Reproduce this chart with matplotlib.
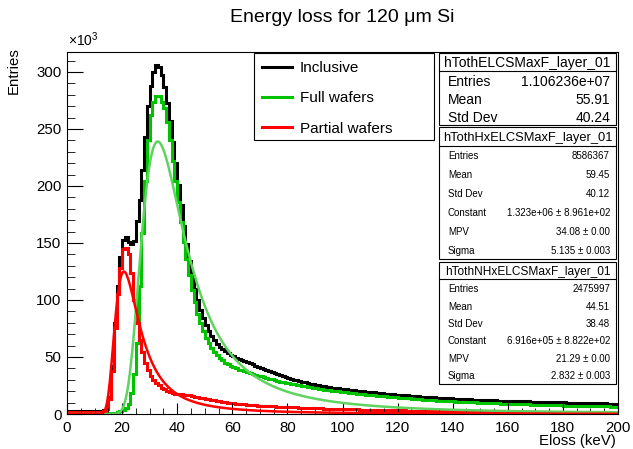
import numpy as np
import matplotlib.pyplot as plt
from matplotlib.patches import Rectangle
from matplotlib.lines import Line2D
from matplotlib.ticker import MultipleLocator

plt.rcParams['font.family'] = ['Liberation Sans', 'DejaVu Sans']
plt.rcParams['mathtext.fontset'] = 'custom'
plt.rcParams['mathtext.rm'] = 'Liberation Sans'

# 1 keV bins from 0 to 200, contents in units of 10^3 entries
edges = np.arange(0, 201, 1)

inclusive = [
    2.6, 2.6, 2.7, 2.6, 2.6, 2.7, 2.6, 2.7, 2.7, 2.8,
    2.8, 2.9, 3.0, 3.2, 5.0, 15.0, 42.0, 80.0, 112.0, 138.0,
    153.0, 155.0, 151.0, 149.0, 152.0, 169.0, 188.0, 214.0, 243.0, 270.0,
    288.0, 300.0, 306.0, 304.0, 297.0, 287.0, 273.0, 257.0, 239.0, 220.0,
    201.0, 183.0, 165.0, 149.0, 134.0, 121.0, 110.0, 100.0, 91.0, 84.0,
    78.0, 73.0, 68.5, 64.5, 61.5, 59.0, 57.0, 55.0, 53.5, 52.0,
    50.5, 49.5, 48.5, 47.5, 46.5, 45.5, 44.5, 43.5, 42.5, 41.5,
    40.5, 39.5, 38.5, 37.5, 36.6, 35.7, 34.8, 34.0, 33.2, 32.4,
    31.6, 30.9, 30.2, 29.5, 28.9, 28.3, 27.7, 27.1, 26.6, 26.1,
    25.6, 25.1, 24.7, 24.3, 23.9, 23.5, 23.1, 22.8, 22.5, 22.2,
    21.9, 21.6, 21.3, 21.0, 20.7, 20.4, 20.1, 19.9, 19.6, 19.4,
    19.1, 18.9, 18.6, 18.4, 18.2, 17.9, 17.7, 17.5, 17.3, 17.1,
    16.9, 16.7, 16.5, 16.3, 16.1, 15.9, 15.7, 15.5, 15.3, 15.1,
    14.9, 14.8, 14.6, 14.5, 14.3, 14.2, 14.0, 13.9, 13.8, 13.6,
    13.5, 13.4, 13.3, 13.2, 13.0, 12.9, 12.8, 12.7, 12.6, 12.5,
    12.4, 12.3, 12.2, 12.1, 12.0, 11.9, 11.8, 11.8, 11.7, 11.6,
    11.5, 11.4, 11.3, 11.3, 11.2, 11.1, 11.0, 11.0, 10.9, 10.8,
    10.7, 10.7, 10.6, 10.5, 10.5, 10.4, 10.3, 10.3, 10.2, 10.1,
    10.1, 10.0, 10.0, 9.9, 9.8, 9.8, 9.7, 9.7, 9.6, 9.6,
    9.5, 9.5, 9.4, 9.4, 9.3, 9.3, 9.2, 9.2, 9.1, 9.1,
]

full = [
    0.6, 0.6, 0.5, 0.6, 0.6, 0.5, 0.6, 0.6, 0.6, 0.6,
    0.6, 0.6, 0.6, 0.7, 0.7, 0.8, 1.0, 1.2, 1.6, 2.2,
    3.2, 5.0, 9.0, 18.0, 35.0, 62.0, 112.0, 159.0, 204.0, 240.0,
    262.0, 274.0, 279.0, 279.0, 274.0, 268.0, 256.0, 240.0, 222.0, 204.0,
    186.0, 168.0, 151.0, 136.0, 122.0, 109.0, 98.0, 88.0, 80.0, 73.0,
    67.0, 62.0, 58.0, 54.5, 51.5, 49.0, 47.0, 45.0, 43.5, 42.0,
    41.0, 40.0, 39.0, 38.2, 37.4, 36.6, 35.8, 35.0, 34.3, 33.6,
    32.9, 32.2, 31.5, 30.9, 30.3, 29.7, 29.1, 28.5, 28.0, 27.5,
    27.0, 26.5, 26.0, 25.5, 25.0, 24.6, 24.2, 23.8, 23.4, 23.0,
    22.6, 22.2, 21.8, 21.4, 21.0, 20.7, 20.4, 20.1, 19.8, 19.5,
    19.2, 18.9, 18.6, 18.3, 18.0, 17.7, 17.4, 17.2, 17.0, 16.7,
    16.5, 16.3, 16.0, 15.8, 15.6, 15.4, 15.2, 15.0, 14.8, 14.6,
    14.4, 14.2, 14.0, 13.8, 13.6, 13.4, 13.2, 13.0, 12.8, 12.6,
    12.4, 12.3, 12.1, 12.0, 11.8, 11.7, 11.5, 11.4, 11.3, 11.1,
    11.0, 10.9, 10.8, 10.7, 10.5, 10.4, 10.3, 10.2, 10.1, 10.0,
    9.9, 9.8, 9.7, 9.6, 9.5, 9.4, 9.3, 9.2, 9.1, 9.0,
    8.9, 8.8, 8.8, 8.7, 8.6, 8.5, 8.4, 8.4, 8.3, 8.2,
    8.1, 8.1, 8.0, 7.9, 7.8, 7.8, 7.7, 7.6, 7.6, 7.5,
    7.4, 7.4, 7.3, 7.3, 7.2, 7.1, 7.1, 7.0, 7.0, 6.9,
    6.9, 6.8, 6.8, 6.7, 6.7, 6.6, 6.6, 6.5, 6.5, 6.4,
]

partial = [
    1.6, 1.6, 1.7, 1.6, 1.6, 1.7, 1.6, 1.7, 1.7, 1.8,
    1.8, 1.9, 2.0, 2.2, 4.0, 13.0, 38.0, 75.0, 105.0, 128.0,
    145.0, 146.0, 140.0, 124.0, 100.0, 80.0, 65.0, 54.0, 45.0, 38.5,
    33.5, 30.0, 27.0, 25.0, 23.0, 21.5, 20.2, 19.2, 18.4, 17.8,
    17.4, 17.2, 17.0, 16.7, 16.3, 15.8, 15.3, 14.8, 14.3, 13.8,
    13.3, 12.8, 12.3, 11.9, 11.5, 11.1, 10.7, 10.3, 10.0, 9.7,
    9.4, 9.1, 8.8, 8.6, 8.4, 8.2, 8.0, 7.8, 7.6, 7.4,
    7.3, 7.1, 7.0, 6.9, 6.7, 6.6, 6.5, 6.4, 6.3, 6.2,
    6.1, 6.0, 5.9, 5.8, 5.7, 5.6, 5.5, 5.4, 5.3, 5.2,
    5.1, 5.0, 4.9, 4.8, 4.8, 4.7, 4.6, 4.5, 4.5, 4.4,
    4.3, 4.2, 4.2, 4.1, 4.0, 4.0, 3.9, 3.8, 3.8, 3.7,
    3.7, 3.6, 3.6, 3.5, 3.5, 3.4, 3.4, 3.3, 3.3, 3.2,
    3.2, 3.1, 3.1, 3.0, 3.0, 3.0, 2.9, 2.9, 2.8, 2.8,
    2.8, 2.7, 2.7, 2.7, 2.6, 2.6, 2.6, 2.5, 2.5, 2.5,
    2.4, 2.4, 2.4, 2.3, 2.3, 2.3, 2.3, 2.2, 2.2, 2.2,
    2.2, 2.1, 2.1, 2.1, 2.1, 2.0, 2.0, 2.0, 2.0, 1.9,
    1.9, 1.9, 1.9, 1.9, 1.8, 1.8, 1.8, 1.8, 1.8, 1.7,
    1.7, 1.7, 1.7, 1.7, 1.7, 1.6, 1.6, 1.6, 1.6, 1.6,
    1.6, 1.5, 1.5, 1.5, 1.5, 1.5, 1.5, 1.5, 1.4, 1.4,
    1.4, 1.4, 1.4, 1.4, 1.4, 1.3, 1.3, 1.3, 1.3, 1.3,
]

# Landau fit results (constant, MPV, sigma) as given in the stat boxes
full_fit = (1.323e6, 34.08, 5.135)
partial_fit = (6.916e5, 21.29, 2.832)

legend_labels = ['Inclusive', 'Full wafers', 'Partial wafers']

box1_title = 'hTothELCSMaxF_layer_01'
box1_rows = [('Entries', '1.106236e+07'), ('Mean', '55.91'), ('Std Dev', '40.24')]
box2_title = 'hTothHxELCSMaxF_layer_01'
box2_rows = [('Entries', '8586367'), ('Mean', '59.45'), ('Std Dev', '40.12'),
             ('Constant', '1.323e+06 \u00b1 8.961e+02'), ('MPV', '34.08 \u00b1 0.00'),
             ('Sigma', '5.135 \u00b1 0.003')]
box3_title = 'hTothNHxELCSMaxF_layer_01'
box3_rows = [('Entries', '2475997'), ('Mean', '44.51'), ('Std Dev', '38.48'),
             ('Constant', '6.916e+05 \u00b1 8.822e+02'), ('MPV', '21.29 \u00b1 0.00'),
             ('Sigma', '2.832 \u00b1 0.003')]

BLACK = 'black'
GREEN = '#00c300'
GREEN_FIT = '#5fd35f'
RED = '#ff0000'


def landau(x, const, mpv, sigma):
    # standard Landau density via its Fourier integral (same as ROOT's TMath::Landau)
    t = np.linspace(1e-9, 25, 50001)
    env = np.exp(-np.pi * t / 2)
    tlt = t * np.log(t)
    lam = (x - mpv) / sigma
    vals = [np.trapezoid(env * np.cos(tlt + l * t), t) / np.pi for l in lam]
    return const * np.array(vals)


W, H = 633, 449


def fx(x):
    return x / W


def fy(y):
    return 1 - y / H


fig = plt.figure(figsize=(W / 100, H / 100), dpi=100)
ax = fig.add_axes([fx(67), fy(414), fx(618) - fx(67), fy(52) - fy(414)])

xf = np.linspace(0, 200, 801)
full_curve = landau(xf, *full_fit) / 1000
partial_curve = landau(xf, *partial_fit) / 1000

ax.stairs(inclusive, edges, color=BLACK, lw=2.2, baseline=None)
ax.stairs(full, edges, color=GREEN, lw=2.2, baseline=None)
ax.plot(xf, full_curve, color=GREEN_FIT, lw=1.8)
ax.stairs(partial, edges, color=RED, lw=2.2, baseline=None)
ax.plot(xf, partial_curve, color=RED, lw=1.8)

ax.set_xlim(0, 200)
ax.set_ylim(0, 317.5)
ax.xaxis.set_major_locator(MultipleLocator(20))
ax.xaxis.set_minor_locator(MultipleLocator(5))
ax.yaxis.set_major_locator(MultipleLocator(50))
ax.yaxis.set_minor_locator(MultipleLocator(10))
ax.tick_params(which='both', direction='in', top=False, right=False, labelsize=10.8)
ax.tick_params(axis='x', which='major', length=8, pad=5)
ax.tick_params(axis='x', which='minor', length=4)
ax.tick_params(axis='y', which='major', length=11.5, pad=4)
ax.tick_params(axis='y', which='minor', length=5.8)
for s in ax.spines.values():
    s.set_linewidth(0.8)

fig.text(fx(342), fy(18), 'Energy loss for 120 \u03bcm Si', ha='center', va='center', fontsize=14)
fig.text(fx(68), fy(46), r'$\times$10$^{3}$', ha='left', va='baseline', fontsize=10)
fig.text(fx(14), fy(47), 'Entries', ha='center', va='top', rotation=90, fontsize=10.8)
fig.text(fx(616), fy(441), 'Eloss (keV)', ha='right', va='center', fontsize=10.8)

# legend
fig.add_artist(Rectangle((fx(254), fy(140)), fx(434) - fx(254), fy(53) - fy(140),
                         transform=fig.transFigure, fc='white', ec='black', lw=0.8))
for i, (lab, col) in enumerate(zip(legend_labels, [BLACK, GREEN, RED])):
    y = fy(67 + 30 * i)
    fig.add_artist(Line2D([fx(262), fx(292)], [y, y], transform=fig.transFigure, color=col, lw=2.2))
    fig.text(fx(300), y, lab, ha='left', va='center_baseline', fontsize=11)


def stat_box(top, bottom, title, rows, size, title_size):
    left, right = 439, 616
    fig.add_artist(Rectangle((fx(left), fy(bottom)), fx(right) - fx(left), fy(top) - fy(bottom),
                             transform=fig.transFigure, fc='white', ec='black', lw=0.8))
    step = (bottom - top) / (len(rows) + 1)
    fig.text(fx((left + right) / 2), fy(top + step / 2), title,
             ha='center', va='center_baseline', fontsize=title_size)
    fig.add_artist(Line2D([fx(left), fx(right)], [fy(top + step)] * 2,
                          transform=fig.transFigure, color='black', lw=0.8))
    for i, (name, val) in enumerate(rows):
        y = fy(top + step * (i + 1.5))
        fig.text(fx(left + 9), y, name, ha='left', va='center_baseline', fontsize=size)
        fig.text(fx(right - 6), y, val, ha='right', va='center_baseline', fontsize=size)


stat_box(53, 125, box1_title, box1_rows, 10, 10)
stat_box(127, 259, box2_title, box2_rows, 7, 9.3)
stat_box(262, 384, box3_title, box3_rows, 7, 8.6)

fig.savefig('out.png', dpi=100)
